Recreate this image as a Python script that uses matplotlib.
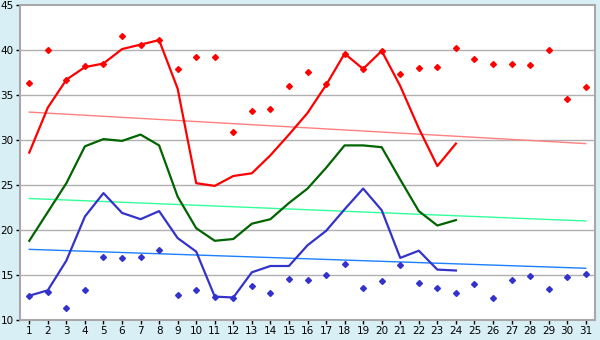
import numpy as np
import matplotlib
matplotlib.use("Agg")
import matplotlib.pyplot as plt

days = list(range(1, 32))
line_days = list(range(1, 25))

red_line = [28.6, 33.6, 36.7, 38.1, 38.5, 40.1, 40.6, 41.1, 35.7, 25.2, 24.9, 26.0,
            26.3, 28.3, 30.6, 33.0, 36.1, 39.6, 37.9, 39.9, 36.0, 31.3, 27.1, 29.6]
green_line = [18.8, 22.0, 25.2, 29.3, 30.1, 29.9, 30.6, 29.4, 23.7, 20.2, 18.8, 19.0,
              20.7, 21.2, 23.0, 24.6, 26.9, 29.4, 29.4, 29.2, 25.6, 22.1, 20.5, 21.1]
blue_line = [12.7, 13.3, 16.6, 21.5, 24.1, 21.9, 21.2, 22.1, 19.1, 17.6, 12.6, 12.5,
             15.3, 16.0, 16.0, 18.3, 19.9, 22.3, 24.6, 22.2, 16.9, 17.7, 15.6, 15.5]

red_points = [36.3, 40.0, 36.7, 38.2, 38.5, 41.6, 40.6, 41.1, 37.85, 39.2, 39.2, 30.85,
              33.2, 33.5, 36.0, 37.6, 36.2, 39.6, 37.9, 39.9, 37.3, 38.0, 38.1, 40.2,
              39.0, 38.4, 38.4, 38.3, 40.0, 34.6, 35.85]
blue_points = [12.7, 13.1, 11.3, 13.3, 17.0, 16.85, 17.0, 17.75, 12.75, 13.3, 12.6, 12.5,
               13.8, 13.0, 14.6, 14.4, 15.0, 16.2, 13.55, 14.3, 16.1, 14.1, 13.6, 13.0,
               14.0, 12.4, 14.5, 14.85, 13.4, 14.75, 15.1]

# trend lines: value at day 1 and day 31
red_trend = [33.1, 29.6]
green_trend = [23.5, 21.0]
blue_trend = [17.85, 15.75]

bg = "#d9eff6"
fig = plt.figure(figsize=(6, 3.4), dpi=100, facecolor=bg)
ax = fig.add_axes([20 / 600, 20 / 340, 575 / 600, 315 / 340])
ax.set_facecolor("white")

for y in range(15, 45, 5):
    ax.axhline(y, color="#b0b0b0", lw=1, zorder=1)

ends = [days[0], days[-1]]
ax.plot(ends, red_trend, color="#ff8080", lw=1, zorder=2)
ax.plot(ends, green_trend, color="#33ff99", lw=1, zorder=2)
ax.plot(ends, blue_trend, color="#1a80ff", lw=1, zorder=2)

ax.plot(line_days, red_line, color="#ff0000", lw=1.6, zorder=3)
ax.plot(line_days, green_line, color="#006400", lw=1.6, zorder=3)
ax.plot(line_days, blue_line, color="#3333cc", lw=1.6, zorder=3)

ax.plot(days, red_points, ls="none", marker="D", ms=3, color="#ff0000", zorder=4)
ax.plot(days, blue_points, ls="none", marker="D", ms=3, color="#3333cc", zorder=4)

ax.set_xlim(0.5, 31.5)
ax.set_ylim(10, 45)
ax.set_xticks(days)
ax.set_yticks(range(10, 50, 5))
ax.tick_params(axis="both", direction="out", length=3, width=1, color="black",
               labelsize=7.5, pad=1.5)
for s in ax.spines.values():
    s.set_color("#a8a8a8")
    s.set_linewidth(1.5)

fig.savefig("out.png", dpi=100, facecolor=bg)
